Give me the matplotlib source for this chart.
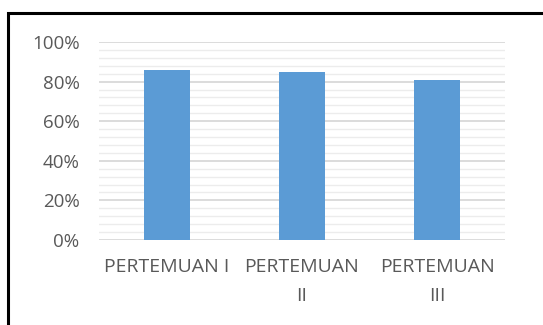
import matplotlib.pyplot as plt
from matplotlib.patches import Rectangle
from matplotlib.ticker import MultipleLocator, PercentFormatter

# data
categories = ['PERTEMUAN I', 'PERTEMUAN\nII', 'PERTEMUAN\nIII']
values = [86, 85, 81]

plt.rcParams['font.family'] = ['Open Sans', 'DejaVu Sans']

fig = plt.figure(figsize=(5.43, 3.25), dpi=100)
ax = fig.add_axes([99 / 543, 1 - 240 / 325, (505 - 99) / 543, (240 - 42) / 325])

x = range(len(categories))
ax.bar(x, values, width=0.34, color='#5b9bd5', zorder=3)

ax.set_xlim(-0.5, len(categories) - 0.5)
ax.set_ylim(0, 100)
ax.yaxis.set_major_locator(MultipleLocator(20))
ax.yaxis.set_minor_locator(MultipleLocator(4))
ax.yaxis.set_major_formatter(PercentFormatter(decimals=0))
ax.grid(axis='y', which='major', color='#d9d9d9', linewidth=1.3, zorder=0)
ax.grid(axis='y', which='minor', color='#ececec', linewidth=1.0, zorder=0)
ax.set_xticks(list(x))
ax.set_xticklabels(categories, linespacing=1.75, fontsize=14)
ax.tick_params(axis='both', which='both', length=0, colors='#595959')
ax.tick_params(axis='y', pad=14, labelsize=13.5)
ax.tick_params(axis='x', pad=13)
for s in ax.spines.values():
    s.set_visible(False)

# black frame around the chart (runs off the right and bottom edges)
fig.patches.append(Rectangle((8 / 543, -0.1), 1.2, 1.1 - 13 / 325,
                             transform=fig.transFigure, fill=False,
                             edgecolor='black', linewidth=2.2))

fig.savefig('out.png', dpi=100)
